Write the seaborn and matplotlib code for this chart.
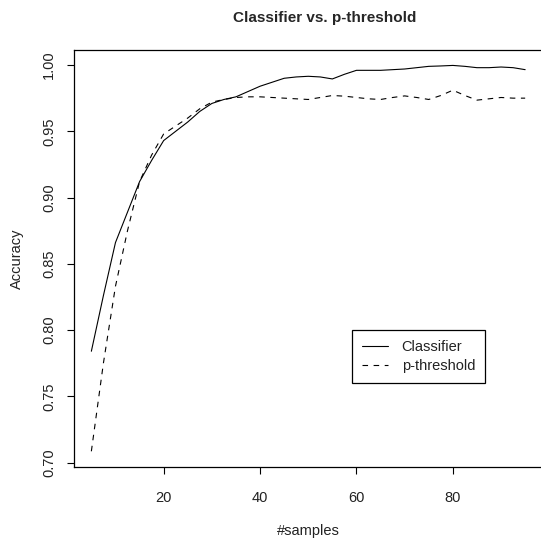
import matplotlib
matplotlib.use("Agg")
import matplotlib.pyplot as plt
import numpy as np
import pandas as pd
import seaborn as sns

# number of samples (x axis)
samples = [5, 7.5, 10, 12.5, 15, 17.5, 20, 22.5, 25, 27.5, 30, 32.5, 35, 37.5,
           40, 42.5, 45, 47.5, 50, 52.5, 55, 57.5, 60, 62.5, 65, 67.5, 70,
           72.5, 75, 77.5, 80, 82.5, 85, 87.5, 90, 92.5, 95]

# accuracy of the classifier
classifier_acc = [0.784, 0.826, 0.866, 0.889, 0.912, 0.928, 0.943, 0.950,
                  0.957, 0.965, 0.971, 0.974, 0.976, 0.980, 0.984, 0.987,
                  0.990, 0.991, 0.9915, 0.991, 0.9895, 0.993, 0.996, 0.996,
                  0.996, 0.9965, 0.997, 0.998, 0.999, 0.9993, 0.9997, 0.999,
                  0.998, 0.998, 0.9985, 0.998, 0.9965]

# accuracy of the p-value threshold
pthreshold_acc = [0.7085, 0.775, 0.833, 0.875, 0.912, 0.932, 0.948, 0.954,
                  0.960, 0.967, 0.972, 0.974, 0.9755, 0.976, 0.976, 0.9755,
                  0.975, 0.9745, 0.974, 0.9755, 0.977, 0.9765, 0.9755, 0.9745,
                  0.974, 0.9755, 0.9767, 0.9755, 0.974, 0.977, 0.981, 0.977,
                  0.9735, 0.9745, 0.9755, 0.975, 0.975]

methods = ["Classifier", "p-threshold"]

df = pd.DataFrame({
    "samples": samples * 2,
    "accuracy": classifier_acc + pthreshold_acc,
    "method": [methods[0]] * len(samples) + [methods[1]] * len(samples),
})

sns.set_style("ticks")
plt.rcParams["font.family"] = ["Liberation Sans", "DejaVu Sans"]

fig = plt.figure(figsize=(5.41, 5.41), dpi=100)
ax = fig.add_axes([0.1368, 0.1373, 0.866, 0.7703])

sns.lineplot(data=df, x="samples", y="accuracy", hue="method", style="method",
             palette={"Classifier": "black", "p-threshold": "black"},
             dashes={"Classifier": "", "p-threshold": (5, 5)},
             linewidth=0.8, ax=ax)

# R style axis ranges (4% padding)
xmin, xmax = min(samples), max(samples)
pad_x = (xmax - xmin) * 0.04
ax.set_xlim(xmin - pad_x, xmax + pad_x)
ymin = min(classifier_acc + pthreshold_acc)
ymax = max(classifier_acc + pthreshold_acc)
pad_y = (ymax - ymin) * 0.04
ax.set_ylim(ymin - pad_y, ymax + pad_y)

ax.set_xticks([20, 40, 60, 80])
ax.set_yticks([0.70, 0.75, 0.80, 0.85, 0.90, 0.95, 1.00])
ax.set_yticklabels(["0.70", "0.75", "0.80", "0.85", "0.90", "0.95", "1.00"],
                   rotation=90, va="center")
ax.tick_params(axis="both", direction="out", length=5, width=0.8,
               labelsize=10.5, colors="black", labelcolor="#222222")
ax.tick_params(axis="x", pad=12.5)
ax.tick_params(axis="y", pad=8)

for side in ["left", "right", "top", "bottom"]:
    ax.spines[side].set_visible(True)
    ax.spines[side].set_linewidth(0.9)
    ax.spines[side].set_color("black")

ax.set_xlabel("#samples", fontsize=10.5, labelpad=14, color="#222222")
ax.set_ylabel("Accuracy", fontsize=10.5, labelpad=13, color="#222222")
ax.set_title("Classifier vs. p-threshold", fontsize=11, fontweight="bold",
             pad=20, x=0.534)

leg = ax.legend(title=None, loc="lower left", bbox_to_anchor=(0.5934, 0.201),
                borderaxespad=0, frameon=True, fancybox=False, framealpha=1,
                edgecolor="black", fontsize=10.5, handlelength=1.8,
                handletextpad=0.9, borderpad=0.7, labelspacing=0.3)
leg.get_frame().set_linewidth(0.9)
for t in leg.get_texts():
    t.set_color("#222222")

fig.savefig("out.png", dpi=100)
